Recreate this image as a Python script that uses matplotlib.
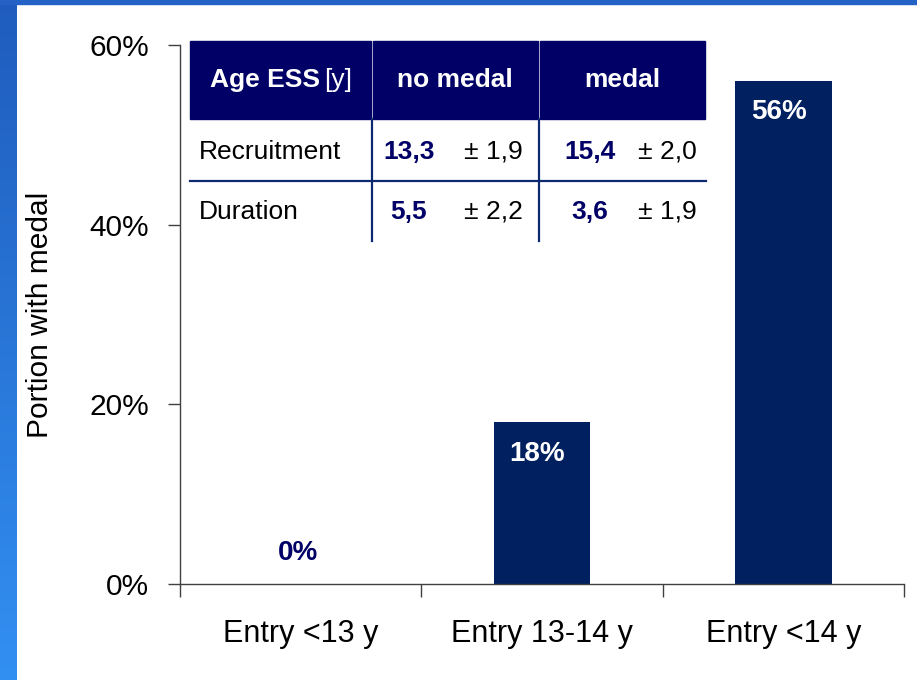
import numpy as np
import matplotlib.pyplot as plt
from matplotlib.patches import Rectangle
from matplotlib.colors import LinearSegmentedColormap

plt.rcParams['font.family'] = ['Liberation Sans', 'DejaVu Sans']

# data
categories = ['Entry <13 y', 'Entry 13-14 y', 'Entry <14 y']
portion = [0, 18, 56]
yticks = [0, 20, 40, 60]

# table contents
table_header = ['no medal', 'medal']
table_rows = ['Recruitment', 'Duration']
no_medal_mean = ['13,3', '5,5']
no_medal_sd = ['± 1,9', '± 2,2']
medal_mean = ['15,4', '3,6']
medal_sd = ['± 2,0', '± 1,9']

bar_color = '#002060'
head_color = '#000066'

W, H = 917, 680
fig = plt.figure(figsize=(W / 100, H / 100), dpi=100)

# blue slide frame (left gradient strip + top strip)
frame = fig.add_axes([0, 0, 17 / W, 1])
grad = np.linspace(0, 1, 256).reshape(-1, 1)
cmap = LinearSegmentedColormap.from_list('frame', ['#3290f2', '#1f5cbd'])
frame.imshow(grad, aspect='auto', cmap=cmap, origin='lower', extent=[0, 1, 0, 1])
frame.axis('off')
fig.patches.append(Rectangle((0, 1 - 4 / H), 1, 4 / H, transform=fig.transFigure,
                             color='#2462c6', zorder=5))

ax = fig.add_axes([180 / W, 1 - 584 / H, 724 / W, 539 / H])
x = np.arange(len(categories))
ax.bar(x, portion, width=0.4, color=bar_color, zorder=2)
ax.set_xlim(-0.5, len(categories) - 0.5)
ax.set_ylim(0, 60)

ax.set_yticks(yticks)
ax.set_yticklabels([f'{v}%' for v in yticks], fontsize=21.5)
ax.set_xticks(np.arange(-0.5, len(categories)))
ax.set_xticklabels([])
ax.set_xticks(x, minor=True)
ax.set_xticklabels(categories, minor=True, fontsize=22)
ax.tick_params(axis='x', which='major', direction='out', length=9, width=1, color='#404040')
ax.tick_params(axis='x', which='minor', length=0, pad=25)
ax.tick_params(axis='y', direction='out', length=9, width=1, color='#404040', pad=13)
for s in ['top', 'right']:
    ax.spines[s].set_visible(False)
for s in ['left', 'bottom']:
    ax.spines[s].set_color('#404040')
    ax.spines[s].set_linewidth(1)

ax.set_ylabel('Portion with medal', fontsize=21.5)
ax.yaxis.set_label_coords(-126 / 724, 0.5)

# bar value labels
for xi, v in zip(x, portion):
    if v > 5:
        ax.text(xi - 0.02, v - 3.5, f'{v}%', ha='center', va='center',
                color='white', fontsize=20, fontweight='bold', zorder=3)
    else:
        ax.text(xi - 0.01, v + 3.4, f'{v}%', ha='center', va='center',
                color=head_color, fontsize=20, fontweight='bold', zorder=3)

# summary table drawn in figure pixels
def fx(px):
    return px / W


def fy(py):
    return 1 - py / H


col_edges = [190, 372, 539, 706]
head_top, head_bot = 41, 119
for i in range(3):
    x0 = col_edges[i] + (1 if i > 0 else 0)
    x1 = col_edges[i + 1] - 1
    fig.patches.append(Rectangle((fx(x0), fy(head_bot)), fx(x1 - x0), (head_bot - head_top) / H,
                                 transform=fig.transFigure, color=head_color, zorder=4))
hy = fy(80)
fig.text(fx(320), hy, 'Age ESS', color='white', fontsize=19, fontweight='bold',
         ha='right', va='center', zorder=6)
fig.text(fx(324), hy, '[y]', color='white', fontsize=19, ha='left', va='center', zorder=6)
fig.text(fx(455), hy, table_header[0], color='white', fontsize=19, fontweight='bold',
         ha='center', va='center', zorder=6)
fig.text(fx(622), hy, table_header[1], color='white', fontsize=19, fontweight='bold',
         ha='center', va='center', zorder=6)

# grid lines of the table body
for cx in col_edges[1:3]:
    fig.add_artist(plt.Line2D([fx(cx), fx(cx)], [fy(head_bot), fy(241)],
                              color='#0d2a6e', lw=1.6, zorder=5))
fig.add_artist(plt.Line2D([fx(190), fx(706)], [fy(181), fy(181)],
                          color='#0d2a6e', lw=1.6, zorder=5))

row_y = [152, 212]
for r, name in enumerate(table_rows):
    yy = fy(row_y[r])
    fig.text(fx(199), yy, name, fontsize=19, ha='left', va='center', zorder=6)
    fig.text(fx(409), yy, no_medal_mean[r], fontsize=19, fontweight='bold', color=head_color,
             ha='center', va='center', zorder=6)
    fig.text(fx(523), yy, no_medal_sd[r], fontsize=19, ha='right', va='center', zorder=6)
    fig.text(fx(590), yy, medal_mean[r], fontsize=19, fontweight='bold', color=head_color,
             ha='center', va='center', zorder=6)
    fig.text(fx(697), yy, medal_sd[r], fontsize=19, ha='right', va='center', zorder=6)

fig.savefig('out.png', dpi=100)
